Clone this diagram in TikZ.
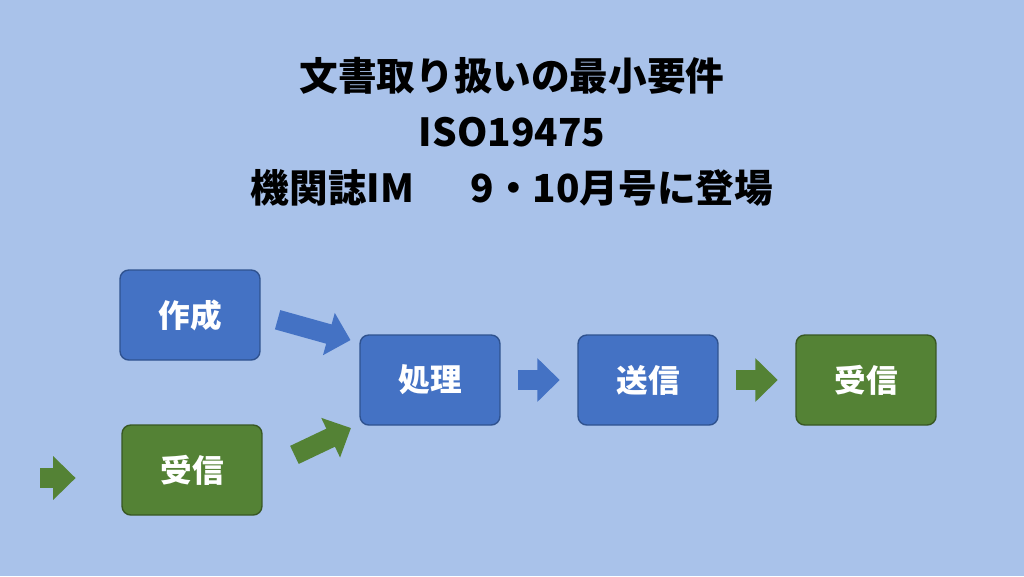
\documentclass[tikz,border=0pt]{standalone}
\usepackage{fontspec}
\setmainfont{Noto Sans CJK JP}
\usetikzlibrary{arrows.meta,positioning,calc}
\definecolor{bgblue}{HTML}{A9C2EA}
\definecolor{boxblue}{HTML}{4472C4}
\definecolor{lineblue}{HTML}{2F528F}
\definecolor{boxgreen}{HTML}{548235}
\definecolor{linegreen}{HTML}{385723}
\tikzset{
  bbox/.style={draw=lineblue, thick, fill=boxblue, rounded corners=5pt, minimum width=2.8cm, minimum height=1.8cm, text=white, font=\fontsize{18}{20}\selectfont\bfseries},
  gbox/.style={bbox, draw=linegreen, fill=boxgreen},
  barrow/.style={draw=boxblue, line width=0.4cm, -{Triangle[length=0.45cm,width=0.85cm]}},
  garrow/.style={barrow, draw=boxgreen},
  ttl/.style={font=\fontsize{22}{24}\selectfont\bfseries},
}
\begin{document}
\begin{tikzpicture}[x=0.02cm,y=-0.02cm]
  \fill[bgblue] (0,0) rectangle (1024,576);
  \useasboundingbox (0,0) rectangle (1024,576);
  % --- title ---
  \node[ttl] (t1) at (512,76) {文書取り扱いの最小要件};
  \node[ttl] (t2) at (512,132) {ISO19475};
  \node[ttl] (t3) at (512,188) {機関誌IM\quad\ \ 9・10月号に登場};
  % --- flow ---
  \node[bbox] (saku) at (190,315) {作成};
  \node[gbox] (juin) at (192,470) {受信};
  \node[bbox] (shori) at (430,380) {処理};
  \node[bbox] (sou) at (648,380) {送信};
  \node[gbox] (juout) at (866,380) {受信};
  \coordinate (start) at (40,478);
  % arrows
  \draw[garrow, shorten >=26] (start) -- (juin.west |- start);
  \draw[barrow, shorten <=10, shorten >=4] (saku.east) -- ($(shori.west)+(-2,-38)$);
  \draw[garrow, shorten <=20, shorten >=4] (juin.east) -- ($(shori.west)+(-2,45)$);
  \draw[barrow, shorten <=10, shorten >=10] (shori) -- (sou);
  \draw[garrow, shorten <=10, shorten >=10] (sou) -- (juout);
\end{tikzpicture}
\end{document}
